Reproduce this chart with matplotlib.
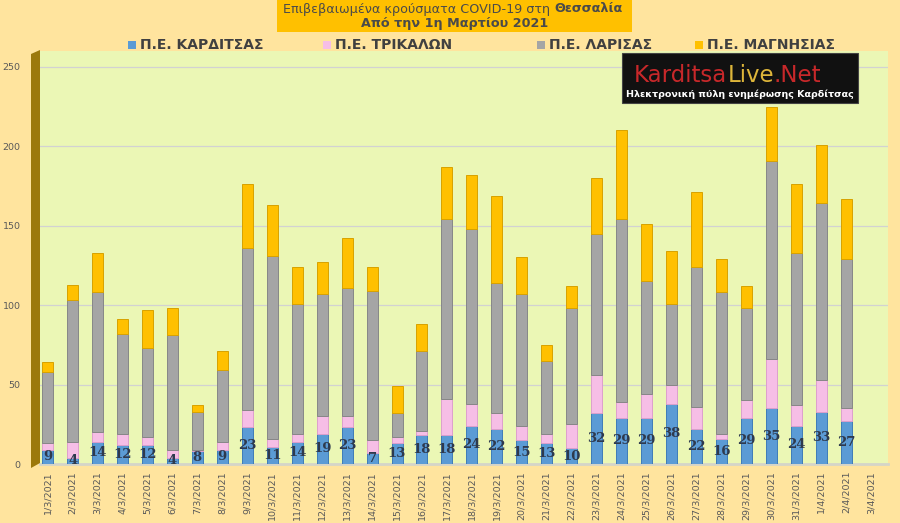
import numpy as np
import matplotlib
matplotlib.use('Agg')
import matplotlib.pyplot as plt
from matplotlib.patches import Rectangle, Polygon
from matplotlib.text import Annotation

# data (stacked: Karditsa, Trikala, Larisa, Magnesia)
dates = ['%d/3/2021' % d for d in range(1, 32)] + ['1/4/2021', '2/4/2021', '3/4/2021']
karditsa = [9, 4, 14, 12, 12, 4, 8, 9, 23, 11, 14, 19, 23, 7, 13, 18, 18,
            24, 22, 15, 13, 10, 32, 29, 29, 38, 22, 16, 29, 35, 24, 33, 27, 0]
trikala = [4, 10, 6, 7, 5, 5, 1, 5, 11, 5, 5, 11, 7, 8, 4, 3, 23,
           14, 10, 9, 6, 15, 24, 10, 15, 12, 14, 3, 11, 31, 13, 20, 8, 0]
larisa = [45, 89, 88, 63, 56, 72, 24, 45, 102, 115, 82, 77, 81, 94, 15, 50, 113,
          110, 82, 83, 46, 73, 89, 115, 71, 51, 88, 89, 58, 125, 96, 111, 94, 0]
magnesia = [6, 10, 25, 9, 24, 17, 4, 12, 40, 32, 23, 20, 31, 15, 17, 17, 33,
            34, 55, 23, 10, 14, 35, 56, 36, 33, 47, 21, 14, 34, 43, 37, 38, 0]
series_names = ['Π.Ε. ΚΑΡΔΙΤΣΑΣ', 'Π.Ε. ΤΡΙΚΑΛΩΝ', 'Π.Ε. ΛΑΡΙΣΑΣ', 'Π.Ε. ΜΑΓΝΗΣΙΑΣ']

colors = ['#5B9BD5', '#F6BEE6', '#A5A5A5', '#FFC000']
edges = ['#3E7CB8', '#DDA0CC', '#878787', '#D8A200']
outer_bg = '#FFE49E'
plot_bg = '#EBF7B5'

W, H = 900, 523


def fx(px):
    return px / W


def fy(py):
    return 1 - py / H


def append_text(fig, prev, s, **kw):
    """Puts text s right after the text artist prev, on the figure."""
    a = Annotation(s, xy=(1, 0.5), xycoords=prev, ha='left', va='center', **kw)
    fig.add_artist(a)
    return a


fig = plt.figure(figsize=(9, 5.23), dpi=100, facecolor=outer_bg)
ax = fig.add_axes([fx(40), fy(464), fx(888) - fx(40), fy(51) - fy(464)])
ax.set_facecolor(plot_bg)

x = np.arange(len(dates))
bottom = np.zeros(len(dates))
for vals, c, e in zip([karditsa, trikala, larisa, magnesia], colors, edges):
    vals = np.array(vals)
    ax.bar(x, vals, width=0.44, bottom=bottom, color=c, edgecolor=e,
           linewidth=0.7, zorder=3)
    bottom = bottom + vals

# data labels for Karditsa, centred in the blue segment
for xi, v in zip(x, karditsa):
    if v > 0:
        ax.text(xi, max(v / 2, 2.5), str(v), ha='center', va='center',
                fontsize=9.5, fontweight='bold', family='DejaVu Serif',
                color='#2E3A4E', zorder=4)

ax.set_ylim(0, 260)
ax.set_xlim(-0.31, 33.68)
ax.set_yticks([0, 50, 100, 150, 200, 250])
ax.set_xticks(x)
ax.set_xticklabels(dates, rotation=90)
ax.tick_params(axis='x', length=0, pad=5, labelsize=6.8, labelcolor='#595959')
ax.tick_params(axis='y', length=0, pad=14, labelsize=6.8, labelcolor='#595959')
ax.grid(axis='y', color='#D2D2D2', linewidth=0.9, zorder=0)
for s in ['top', 'right', 'left']:
    ax.spines[s].set_visible(False)
ax.spines['bottom'].set_color('#D5D5C8')
ax.spines['bottom'].set_linewidth(2)

# 3d side wall on the left
wall = Polygon([(fx(31), fy(54)), (fx(40), fy(50)), (fx(40), fy(463)), (fx(31), fy(468))],
               closed=True, transform=fig.transFigure, facecolor='#9C790C',
               edgecolor='none', zorder=5)
fig.patches.append(wall)

# title box
fig.patches.append(Rectangle((fx(277), fy(32)), fx(632) - fx(277), fy(0) - fy(32),
                             transform=fig.transFigure, facecolor='#FFC000',
                             edgecolor='none'))
t1 = fig.text(fx(283), fy(9), 'Επιβεβαιωμένα κρούσματα COVID-19 στη ', ha='left',
              va='center', fontsize=9.2, color='#4A4A4A', zorder=2)
append_text(fig, t1, 'Θεσσαλία', fontsize=9.2, fontweight='bold',
            color='#4A4A4A', zorder=2)
fig.text(fx(455), fy(24), 'Από την 1η Μαρτίου 2021', ha='center', va='center',
         fontsize=9.2, fontweight='bold', color='#4A4A4A', zorder=2)

# legend
legend_x = [128, 323, 537, 695]
for lx, name, c in zip(legend_x, series_names, colors):
    fig.patches.append(Rectangle((fx(lx), fy(49)), fx(8), fy(0) - fy(8),
                                 transform=fig.transFigure, facecolor=c,
                                 edgecolor='none'))
    fig.text(fx(lx + 12), fy(45), name, ha='left', va='center', fontsize=10,
             fontweight='bold', color='#404040')

# site logo
fig.patches.append(Rectangle((fx(622), fy(103)), fx(858) - fx(622), fy(53) - fy(103),
                             transform=fig.transFigure, facecolor='#111111',
                             edgecolor='#444444', linewidth=0.8, zorder=6))
k = fig.text(fx(634), fy(76), 'Karditsa', ha='left', va='center', fontsize=16.5,
             color='#C8282A', zorder=7)
lv = append_text(fig, k, 'Live', fontsize=16.5, color='#DDB53A', zorder=7)
append_text(fig, lv, '.Net', fontsize=16.5, color='#C8282A', zorder=7)
fig.text(fx(740), fy(94), 'Ηλεκτρονική πύλη ενημέρωσης Καρδίτσας', ha='center',
         va='center', fontsize=6.8, fontweight='bold', color='white', zorder=7)

fig.savefig('out.png', dpi=100, facecolor=outer_bg)
